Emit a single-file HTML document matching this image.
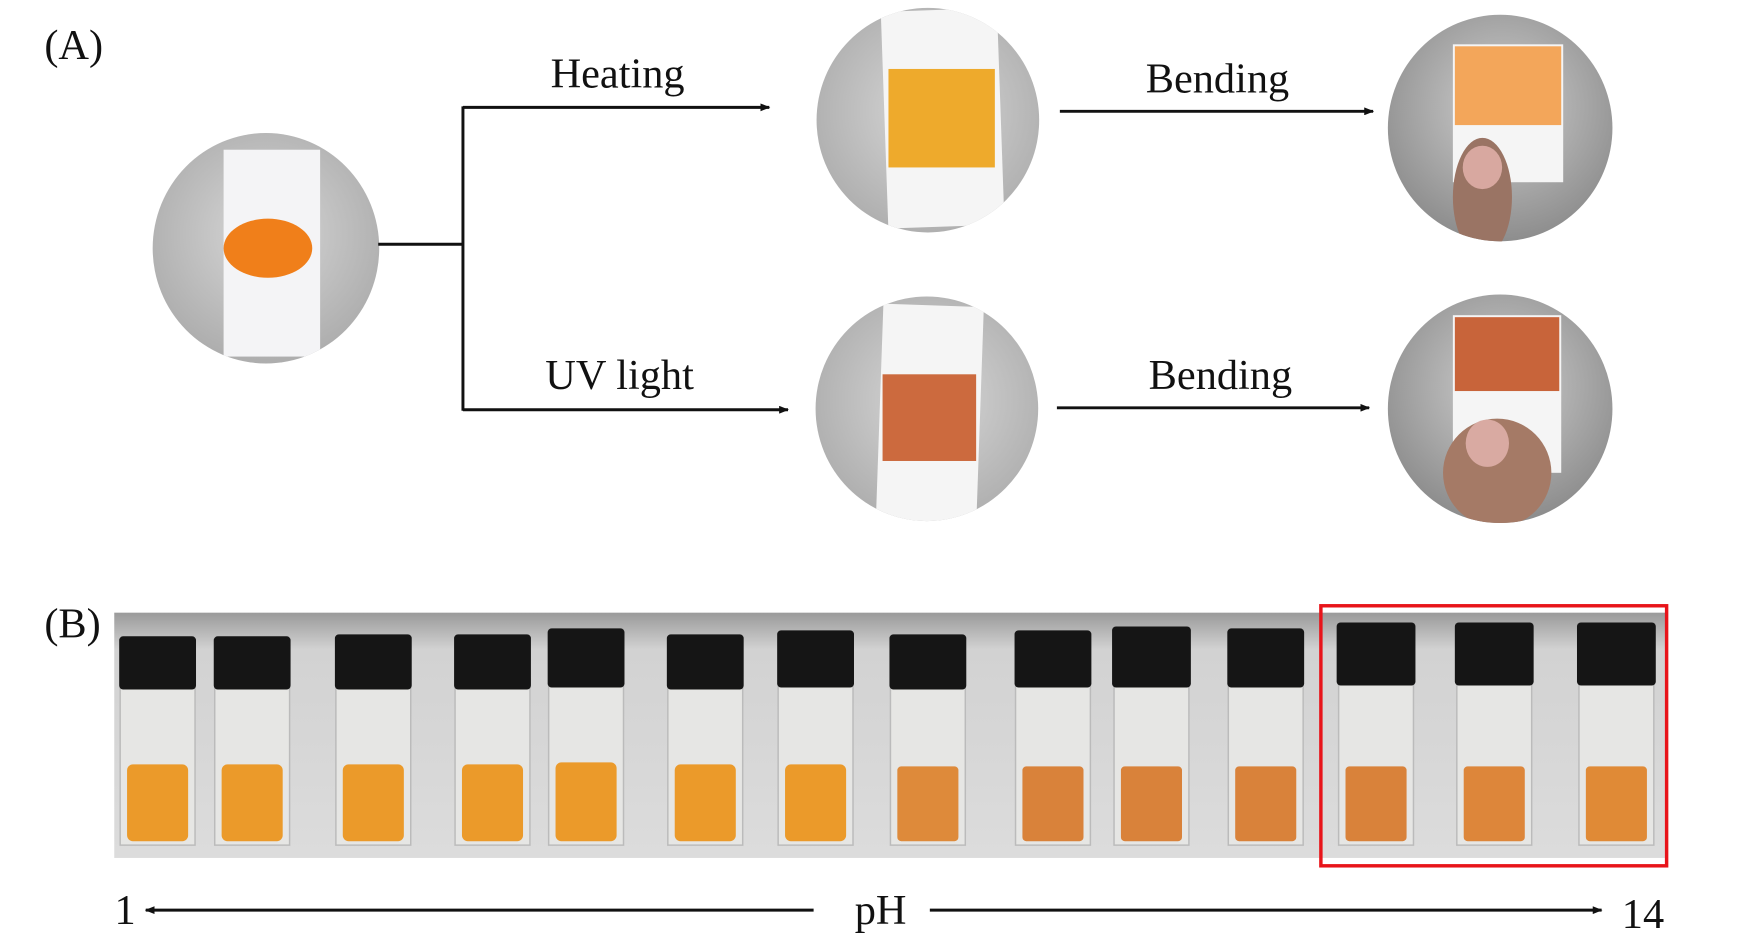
<!DOCTYPE html>
<html><head><meta charset="utf-8"><style>
html,body{margin:0;padding:0;background:#fff;}
svg{display:block;}
text{font-family:"Liberation Serif",serif;fill:#111;}
</style></head><body>
<svg width="1737" height="945" viewBox="0 0 1737 945" xmlns="http://www.w3.org/2000/svg">
<defs>
<radialGradient id="g" cx="50%" cy="45%" r="60%"><stop offset="0" stop-color="#d8d8d8"/><stop offset="1" stop-color="#a9a9a9"/></radialGradient>
<radialGradient id="gd" cx="50%" cy="40%" r="60%"><stop offset="0" stop-color="#cfcfcf"/><stop offset="1" stop-color="#8a8a8a"/></radialGradient>
<linearGradient id="strip" x1="0" y1="0" x2="0" y2="1"><stop offset="0" stop-color="#9a9a9a"/><stop offset="0.15" stop-color="#d2d2d2"/><stop offset="1" stop-color="#dcdcdc"/></linearGradient>
<marker id="ah" markerWidth="10" markerHeight="8" refX="9" refY="4" orient="auto" markerUnits="userSpaceOnUse"><path d="M0,0 L10,4 L0,8 Z" fill="#111"/></marker>
<clipPath id="c1"><ellipse cx="270" cy="252" rx="115" ry="117"/></clipPath>
<clipPath id="c2"><ellipse cx="942" cy="122" rx="113" ry="114"/></clipPath>
<clipPath id="c3"><ellipse cx="941" cy="415" rx="113" ry="114"/></clipPath>
<clipPath id="c4"><ellipse cx="1523" cy="130" rx="114" ry="115"/></clipPath>
<clipPath id="c5"><ellipse cx="1523" cy="415" rx="114" ry="116"/></clipPath>
</defs>
<g transform="scale(0.985)">
<text x="45" y="60" font-size="43">(A)</text>
<text x="45" y="647" font-size="43">(B)</text>

<g clip-path="url(#c1)"><rect x="150" y="130" width="240" height="240" fill="url(#g)"/>
<rect x="227" y="152" width="98" height="210" fill="#f4f4f6"/>
<ellipse cx="272" cy="252" rx="45" ry="30" fill="#f07f1a"/></g>
<g clip-path="url(#c2)"><rect x="825" y="5" width="240" height="240" fill="url(#g)"/>
<rect x="898" y="10" width="118" height="220" fill="#f5f5f5" transform="rotate(-2 957 120)"/>
<rect x="902" y="70" width="108" height="100" fill="#eeaa2c"/></g>
<g clip-path="url(#c3)"><rect x="825" y="298" width="240" height="240" fill="url(#g)"/>
<rect x="893" y="310" width="102" height="220" fill="#f5f5f5" transform="rotate(2 944 420)"/>
<rect x="896" y="380" width="95" height="88" fill="#cc6a3e"/></g>
<g clip-path="url(#c4)"><rect x="1405" y="12" width="240" height="240" fill="url(#gd)"/>
<rect x="1475" y="45" width="112" height="140" fill="#f5f5f5"/>
<rect x="1477" y="47" width="108" height="80" fill="#f3a65a"/>
<ellipse cx="1505" cy="200" rx="30" ry="60" fill="#9a7464"/>
<ellipse cx="1505" cy="170" rx="20" ry="22" fill="#d8a8a0"/></g>
<g clip-path="url(#c5)"><rect x="1405" y="296" width="240" height="240" fill="url(#gd)"/>
<rect x="1475" y="320" width="110" height="160" fill="#f5f5f5"/>
<rect x="1477" y="322" width="106" height="75" fill="#c8643a"/>
<ellipse cx="1520" cy="480" rx="55" ry="55" fill="#a57a66"/>
<ellipse cx="1510" cy="450" rx="22" ry="24" fill="#d9aaa2"/></g>

<g stroke="#111" stroke-width="3" fill="none">
<line x1="384" y1="248" x2="470" y2="248"/>
<line x1="470" y1="108" x2="470" y2="417"/>
<line x1="470" y1="109" x2="781" y2="109" marker-end="url(#ah)"/>
<line x1="470" y1="416" x2="800" y2="416" marker-end="url(#ah)"/>
<line x1="1076" y1="113" x2="1394" y2="113" marker-end="url(#ah)"/>
<line x1="1073" y1="414" x2="1390" y2="414" marker-end="url(#ah)"/>
<line x1="826" y1="924" x2="148" y2="924" marker-end="url(#ah)"/>
<line x1="944" y1="924" x2="1626" y2="924" marker-end="url(#ah)"/>
</g>
<text x="627" y="89" font-size="43" text-anchor="middle">Heating</text>
<text x="629" y="395" font-size="43" text-anchor="middle">UV light</text>
<text x="1236" y="94" font-size="43" text-anchor="middle">Bending</text>
<text x="1239" y="395" font-size="43" text-anchor="middle">Bending</text>
<text x="127" y="938" font-size="43" text-anchor="middle">1</text>
<text x="894" y="938" font-size="43" text-anchor="middle">pH</text>
<text x="1668" y="942" font-size="43" text-anchor="middle">14</text>

<rect x="116" y="622" width="1576" height="249" fill="url(#strip)"/>
<g>
<g transform="translate(160,0)"><rect x="-38" y="690" width="76" height="168" fill="#e6e6e4" stroke="#bbb" stroke-width="1.5"/><rect x="-39" y="646" width="78" height="54" rx="4" fill="#151515"/><rect x="-31" y="776" width="62" height="78" rx="6" fill="#eb9a2a"/></g>
<g transform="translate(256,0)"><rect x="-38" y="690" width="76" height="168" fill="#e6e6e4" stroke="#bbb" stroke-width="1.5"/><rect x="-39" y="646" width="78" height="54" rx="4" fill="#151515"/><rect x="-31" y="776" width="62" height="78" rx="6" fill="#eb9a2a"/></g>
<g transform="translate(379,0)"><rect x="-38" y="690" width="76" height="168" fill="#e6e6e4" stroke="#bbb" stroke-width="1.5"/><rect x="-39" y="644" width="78" height="56" rx="4" fill="#151515"/><rect x="-31" y="776" width="62" height="78" rx="6" fill="#eb9a2a"/></g>
<g transform="translate(500,0)"><rect x="-38" y="690" width="76" height="168" fill="#e6e6e4" stroke="#bbb" stroke-width="1.5"/><rect x="-39" y="644" width="78" height="56" rx="4" fill="#151515"/><rect x="-31" y="776" width="62" height="78" rx="6" fill="#eb9a2a"/></g>
<g transform="translate(595,0)"><rect x="-38" y="690" width="76" height="168" fill="#e6e6e4" stroke="#bbb" stroke-width="1.5"/><rect x="-39" y="638" width="78" height="60" rx="4" fill="#151515"/><rect x="-31" y="774" width="62" height="80" rx="6" fill="#eb9a2a"/></g>
<g transform="translate(716,0)"><rect x="-38" y="690" width="76" height="168" fill="#e6e6e4" stroke="#bbb" stroke-width="1.5"/><rect x="-39" y="644" width="78" height="56" rx="4" fill="#151515"/><rect x="-31" y="776" width="62" height="78" rx="6" fill="#eb9a2a"/></g>
<g transform="translate(828,0)"><rect x="-38" y="690" width="76" height="168" fill="#e6e6e4" stroke="#bbb" stroke-width="1.5"/><rect x="-39" y="640" width="78" height="58" rx="4" fill="#151515"/><rect x="-31" y="776" width="62" height="78" rx="6" fill="#eb9a2a"/></g>
<g transform="translate(942,0)"><rect x="-38" y="690" width="76" height="168" fill="#e6e6e4" stroke="#bbb" stroke-width="1.5"/><rect x="-39" y="644" width="78" height="56" rx="4" fill="#151515"/><rect x="-31" y="778" width="62" height="76" rx="4" fill="#de8a3a"/></g>
<g transform="translate(1069,0)"><rect x="-38" y="690" width="76" height="168" fill="#e6e6e4" stroke="#bbb" stroke-width="1.5"/><rect x="-39" y="640" width="78" height="58" rx="4" fill="#151515"/><rect x="-31" y="778" width="62" height="76" rx="4" fill="#d9823a"/></g>
<g transform="translate(1169,0)"><rect x="-38" y="690" width="76" height="168" fill="#e6e6e4" stroke="#bbb" stroke-width="1.5"/><rect x="-40" y="636" width="80" height="62" rx="4" fill="#151515"/><rect x="-31" y="778" width="62" height="76" rx="4" fill="#d9823a"/></g>
<g transform="translate(1285,0)"><rect x="-38" y="690" width="76" height="168" fill="#e6e6e4" stroke="#bbb" stroke-width="1.5"/><rect x="-39" y="638" width="78" height="60" rx="4" fill="#151515"/><rect x="-31" y="778" width="62" height="76" rx="4" fill="#d9823a"/></g>
<g transform="translate(1397,0)"><rect x="-38" y="690" width="76" height="168" fill="#e6e6e4" stroke="#bbb" stroke-width="1.5"/><rect x="-40" y="632" width="80" height="64" rx="4" fill="#151515"/><rect x="-31" y="778" width="62" height="76" rx="4" fill="#d9823a"/></g>
<g transform="translate(1517,0)"><rect x="-38" y="690" width="76" height="168" fill="#e6e6e4" stroke="#bbb" stroke-width="1.5"/><rect x="-40" y="632" width="80" height="64" rx="4" fill="#151515"/><rect x="-31" y="778" width="62" height="76" rx="4" fill="#dd863a"/></g>
<g transform="translate(1641,0)"><rect x="-38" y="690" width="76" height="168" fill="#e6e6e4" stroke="#bbb" stroke-width="1.5"/><rect x="-40" y="632" width="80" height="64" rx="4" fill="#151515"/><rect x="-31" y="778" width="62" height="76" rx="4" fill="#e08a36"/></g>
</g>
<rect x="1341" y="615" width="351" height="264" fill="none" stroke="#e8141a" stroke-width="3.5"/>
</g>
</svg>
</body></html>
